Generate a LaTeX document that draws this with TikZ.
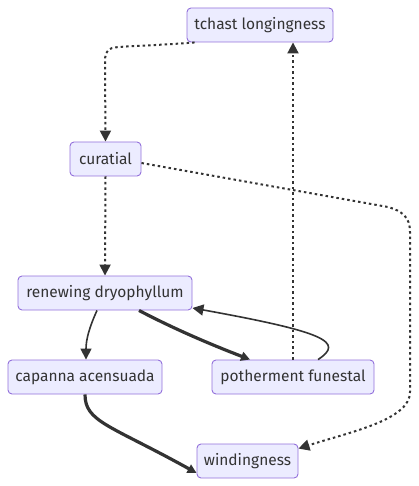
\documentclass[tikz,border=0pt]{standalone}
\usepackage{fontspec}
\setmainfont{Fira Sans}
\usetikzlibrary{arrows.meta}
\definecolor{nodefill}{HTML}{ECECFF}
\definecolor{nodeline}{HTML}{9370DB}
\definecolor{edgecol}{HTML}{333333}
\definecolor{txtcol}{HTML}{333333}
\begin{document}
\begin{tikzpicture}[x=1pt,y=-1pt,
  box/.style={draw=nodeline,fill=nodefill,line width=0.9pt,rounded corners=4pt,
    minimum height=34pt,inner sep=0pt,text=txtcol,font=\fontsize{15.5}{18}\selectfont},
  edgebase/.style={draw=edgecol,-{Triangle[length=11pt,width=11pt]}},
  normaledge/.style={edgebase,line width=1.6pt},
  thickedge/.style={edgebase,line width=3.2pt,-{Triangle[length=9pt,width=9pt]}},
  dotedge/.style={edgebase,line width=2pt,dash pattern=on 2.5pt off 3pt}]
\useasboundingbox (0,0) rectangle (418,486);
\node[box,minimum width=146pt] (t) at (260,25) {tchast longingness};
\node[box,minimum width=71pt] (c) at (105.5,159) {curatial};
\node[box,minimum width=174pt] (r) at (105,293) {renewing dryophyllum};
\node[box,minimum width=154pt] (ca) at (85,377) {capanna acensuada};
\node[box,minimum width=162pt] (p) at (293,377) {potherment funestal};
\node[box,minimum width=101pt] (w) at (247.5,461) {windingness};

\draw[dotedge] ([xshift=8pt]t.south west) .. controls (150,46) and (120,46) .. (112,48)
   .. controls (106,50) and (105,55) .. (105,62) -- (c.north);
\draw[dotedge] (p.north) -- (p.north |- t.south);
\draw[dotedge] (c.south) -- (r.north);
\draw[dotedge] ([yshift=-4pt]c.east) -- (388,207) .. controls (402,211) and (410,217) .. (410,232)
   -- (410,392) .. controls (410,420) and (350,432) .. ([yshift=-5pt]w.north east);
\draw[normaledge] ([xshift=-8pt]r.south) .. controls (89,328) and (86,340) .. ([xshift=1pt]ca.north);
\draw[thickedge] ([xshift=34pt]r.south) .. controls (180,332) and (220,348) .. ([xshift=-43pt]p.north);
\draw[normaledge] ([xshift=25pt]p.north) .. controls (345,342) and (325,332) .. ([yshift=-15pt]r.east);
\draw[thickedge] (ca.south) .. controls (85,422) and (110,425) .. ([yshift=-12pt]w.west);
\end{tikzpicture}
\end{document}
